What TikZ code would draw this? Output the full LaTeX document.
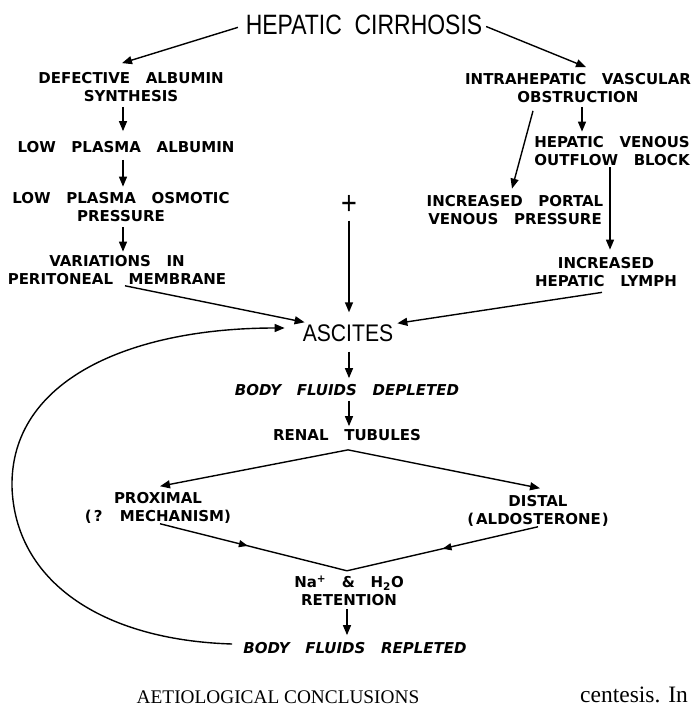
\documentclass[tikz,border=0pt]{standalone}
\usepackage{fontspec}
\setmainfont{Liberation Sans}
\newfontfamily\labf[WordSpace=2]{DejaVu Sans}
\newfontfamily\itaf[WordSpace=3]{DejaVu Sans}
\newfontfamily\bigf[FakeStretch=0.82,WordSpace=2]{Liberation Sans}
\newfontfamily\ascf[FakeStretch=0.88]{Liberation Sans}
\newfontfamily\serf[WordSpace=3.5]{Liberation Serif}
\newfontfamily\serg{Liberation Serif}
\usetikzlibrary{arrows.meta,decorations.markings,calc}
\begin{document}
\begin{tikzpicture}[x=1pt,y=-1pt,
  lab/.style={font={\labf\bfseries\fontsize{15}{18}\selectfont}, align=center, inner sep=0pt},
  ital/.style={font={\itaf\bfseries\itshape\fontsize{15}{18}\selectfont}, inner sep=0pt},
  big/.style={font={\bigf\fontsize{28}{30}\selectfont}, inner sep=0pt},
  ascs/.style={font={\ascf\fontsize{24}{28}\selectfont}, inner sep=0pt},
  plus/.style={font={\bigf\fontsize{33}{33}\selectfont}, inner sep=0pt},
  capt/.style={font={\serf\fontsize{19.3}{22}\selectfont}, inner sep=0pt},
  bodyt/.style={font={\serg\fontsize{23.5}{28}\selectfont}, inner sep=0pt},
  line/.style={line width=1.4pt},
  arr/.style={line width=1.4pt, -{Triangle[length=10pt,width=8pt]}},
  mid arrow/.style={postaction={decorate,decoration={markings,
      mark=at position #1 with {\arrow{Triangle[length=9pt,width=7pt]}}}}}
]
\useasboundingbox (0,0) rectangle (693,706);
\clip (0,0) rectangle (693,706);

% nodes
\node[big] (hc) at (364,25) {HEPATIC CIRRHOSIS};
\node[lab] (dab) at (131,87) {DEFECTIVE ALBUMIN\\SYNTHESIS};
\node[lab] (lpa) at (126,147) {LOW PLASMA ALBUMIN};
\node[lab] (lpo) at (121,207.5) {LOW PLASMA OSMOTIC\\PRESSURE};
\node[lab] (var) at (117,270.5) {VARIATIONS IN\\PERITONEAL MEMBRANE};
\node[plus] (pl) at (349,205) {+};
\node[lab] (ihv) at (578,88) {INTRAHEPATIC VASCULAR\\OBSTRUCTION};
\node[lab] (hvo) at (612,151.5) {HEPATIC VENOUS\\OUTFLOW BLOCK};
\node[lab] (ipv) at (515,210.5) {INCREASED PORTAL\\VENOUS PRESSURE};
\node[lab] (ihl) at (606,272.5) {INCREASED\\HEPATIC LYMPH};
\node[ascs] (asc) at (348,333) {ASCITES};
\node[ital] (bfd) at (347,390) {BODY FLUIDS DEPLETED};
\node[lab] (rt) at (347,435) {RENAL TUBULES};
\node[lab] (prox) at (158,508) {PROXIMAL\\(\kern2pt? MECHANISM)};
\node[lab] (dist) at (538,511) {DISTAL\\(\kern2pt ALDOSTERONE\kern1pt)};
\node[lab] (nah) at (349,591) {Na\textsuperscript{+} \& H\textsubscript{2}O\\RETENTION};
\node[ital] (bfr) at (355,648) {BODY FLUIDS REPLETED};
\node[capt, anchor=base] (cap) at (278,703) {AETIOLOGICAL CONCLUSIONS};
\node[bodyt, anchor=base west] (cen) at (580,702) {centesis. In};

% connectors
\draw[arr, shorten <=8pt] (hc.west) -- ([xshift=-9pt,yshift=9pt]dab.north);
\draw[arr, shorten <=4pt] (hc.east) -- ([xshift=8pt,yshift=6pt]ihv.north);
\draw[arr, shorten <=5pt, shorten >=10pt] ([xshift=-8pt]dab.south) -- ([xshift=-8pt]dab.south |- lpa.north);
\draw[arr, shorten <=7pt, shorten >=6pt] ([xshift=-3pt]lpa.south) -- ([xshift=-3pt]lpa.south |- lpo.north);
\draw[arr, shorten <=5pt, shorten >=4pt] ([xshift=2pt]lpo.south) -- ([xshift=2pt]lpo.south |- var.north);
\draw[arr, shorten <=2pt] ([xshift=6pt]var.south) -- ([xshift=2pt,yshift=2pt]asc.north west);
\draw[arr, shorten <=6pt, shorten >=12pt] (pl.south) -- (pl.south |- asc.north);
\draw[arr, shorten <=4pt, shorten >=5pt] ([xshift=4pt]ihv.south) -- ([xshift=4pt]ihv.south |- hvo.north);
\draw[arr] ([xshift=-45pt,yshift=-8pt]ihv.south) -- ([xshift=-3pt,yshift=7pt]ipv.north);
\draw[arr, shorten <=1pt, shorten >=8pt] ([xshift=-2pt]hvo.south) -- ([xshift=-2pt]hvo.south |- ihl.north);
\draw[arr] ([xshift=-4pt,yshift=-5pt]ihl.south) -- ([xshift=4pt,yshift=1pt]asc.north east);
\draw[arr, shorten <=10pt, shorten >=6pt] ([xshift=1pt]asc.south) -- ([xshift=1pt]asc.south |- bfd.north);
\draw[arr, shorten <=5pt, shorten >=3pt] ([xshift=2pt]bfd.south) -- ([xshift=2pt]bfd.south |- rt.north);
\coordinate (apex) at ([xshift=1pt,yshift=-9pt]rt.south);
\draw[arr] (apex) -- ([xshift=2pt,yshift=6pt]prox.north);
\draw[arr] (apex) -- ([xshift=2pt,yshift=7pt]dist.north);
\coordinate (v) at ([xshift=-2pt,yshift=5pt]nah.north);
\draw[line, mid arrow=0.47] ([xshift=2pt]prox.south) -- (v);
\draw[line, mid arrow=0.5] (dist.south) -- (v);
\draw[arr, shorten <=3pt, shorten >=7pt] ([xshift=-2pt]nah.south) -- ([xshift=-2pt]nah.south |- bfr.north);
\draw[arr] ([xshift=-11pt,yshift=4pt]bfr.west) .. controls (100,640) and (15,580) .. (12,487)
  .. controls (10,380) and (130,328) .. ([xshift=-18pt,yshift=5pt]asc.west);
\end{tikzpicture}
\end{document}
